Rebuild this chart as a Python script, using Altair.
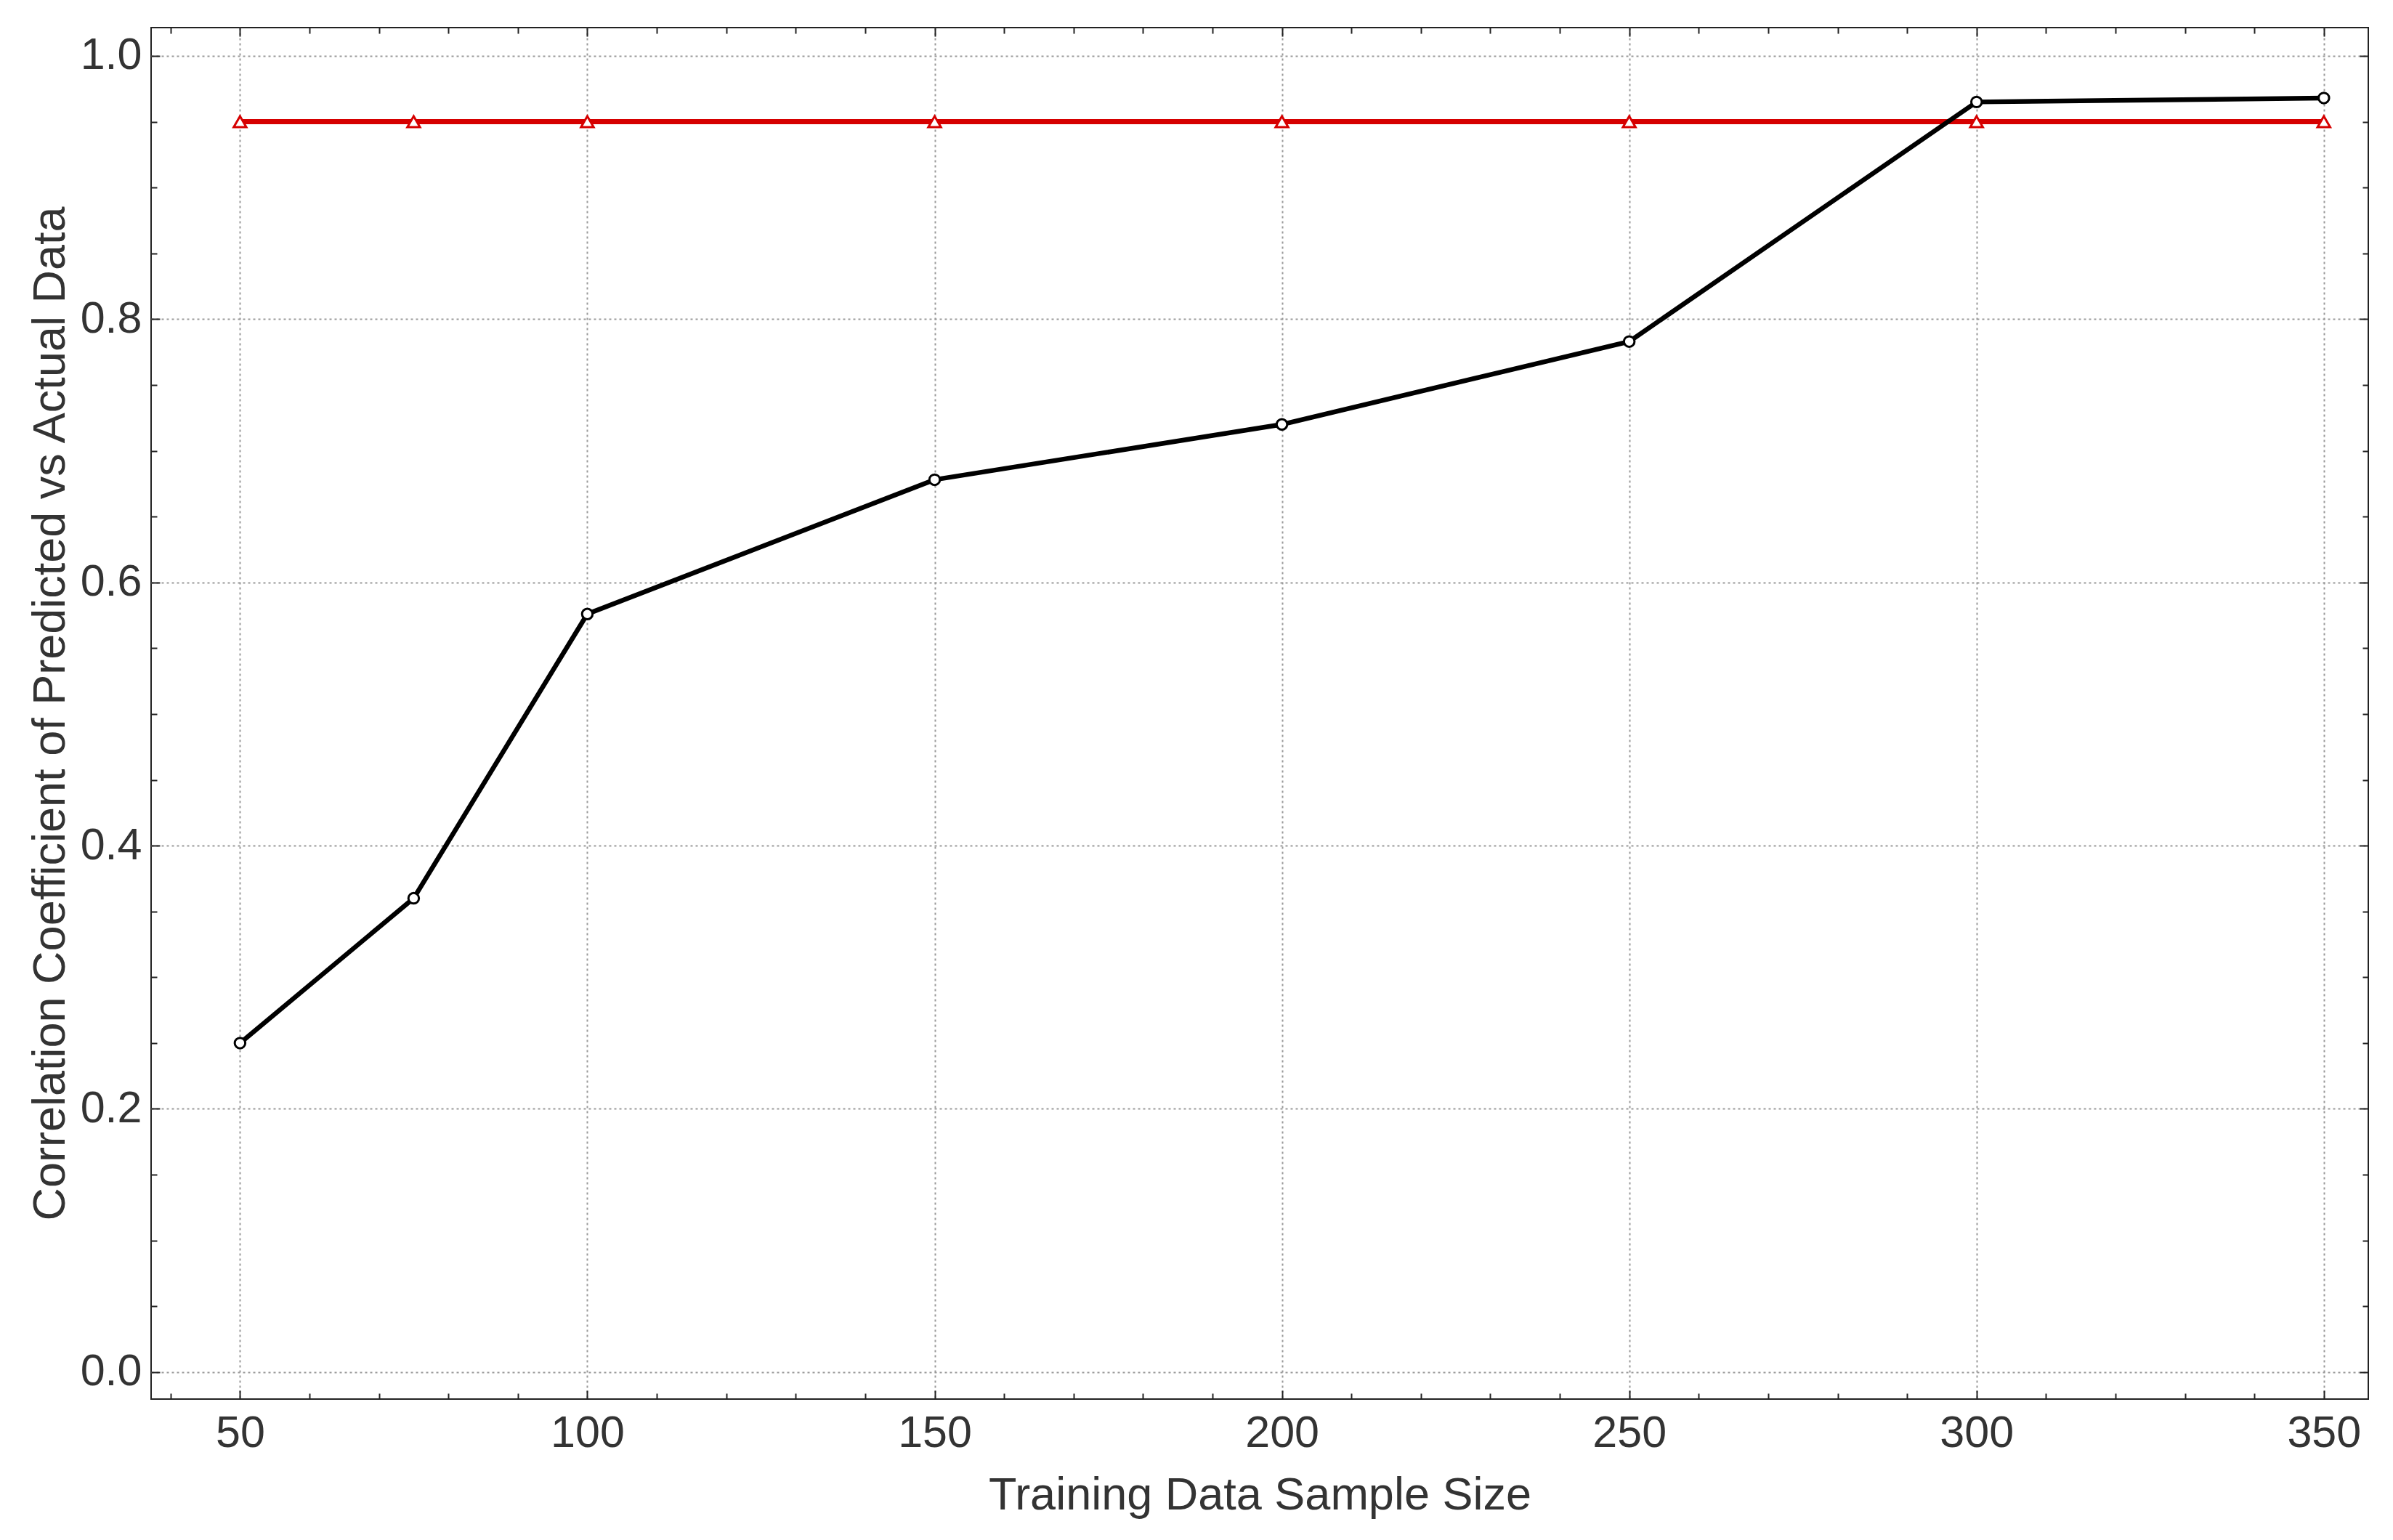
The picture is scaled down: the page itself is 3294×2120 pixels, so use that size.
import altair as alt
import pandas as pd

# ---- data ----
sample_sizes = [50, 75, 100, 150, 200, 250, 300, 350]
correlation = [0.25, 0.36, 0.576, 0.678, 0.72, 0.783, 0.965, 0.968]
target = [0.95, 0.95, 0.95, 0.95, 0.95, 0.95, 0.95, 0.95]

x_major = [50, 100, 150, 200, 250, 300, 350]
x_minor = [40, 60, 70, 80, 90, 110, 120, 130, 140, 160, 170, 180, 190,
           210, 220, 230, 240, 260, 270, 280, 290, 310, 320, 330, 340]
y_major = [0.0, 0.2, 0.4, 0.6, 0.8, 1.0]
y_minor = [0.05, 0.1, 0.15, 0.25, 0.3, 0.35, 0.45, 0.5, 0.55,
           0.65, 0.7, 0.75, 0.85, 0.9, 0.95]

x_title = "Training Data Sample Size"
y_title = "Correlation Coefficient of Predicted vs Actual Data"

df = pd.DataFrame({"size": sample_sizes, "corr": correlation, "target": target})

W, H = 3052, 1888
FONT = "Liberation Sans"
RED = "#d60000"
TXT = "#333333"
TICK = "#222222"

xs = alt.Scale(domain=[37.2, 356.4], nice=False, zero=False)
ys = alt.Scale(domain=[-0.0205, 1.0215], nice=False, zero=False)


def tick_axis(values, orient, offset, size):
    return alt.Axis(values=values, orient=orient, offset=offset, labels=False,
                    domain=False, grid=False, ticks=True, tickSize=size,
                    tickWidth=2, tickColor=TICK, title=None)


x_label_axis = alt.Axis(values=x_major, orient="bottom", format="d",
                        labelFont=FONT, labelFontSize=61, labelColor=TXT,
                        labelPadding=17, labelFlush=False, labelOverlap=False,
                        ticks=False, tickSize=0, domain=False,
                        grid=True, gridColor="#9a9a9a", gridDash=[3, 4], gridWidth=2,
                        title=x_title, titleFont=FONT, titleFontSize=63,
                        titleFontWeight="normal", titleColor=TXT, titlePadding=24)

y_label_axis = alt.Axis(values=y_major, orient="left", format=".1f",
                        labelFont=FONT, labelFontSize=61, labelColor=TXT,
                        labelPadding=13, labelFlush=False, labelOverlap=False,
                        ticks=False, tickSize=0, domain=False,
                        grid=True, gridColor="#9a9a9a", gridDash=[3, 4], gridWidth=2,
                        title=y_title, titleFont=FONT, titleFontSize=63,
                        titleFontWeight="normal", titleColor=TXT, titlePadding=9)

base = alt.Chart(df)

red_line = base.mark_line(color=RED, strokeWidth=7).encode(
    x=alt.X("size:Q", scale=xs, axis=x_label_axis),
    y=alt.Y("target:Q", scale=ys, axis=y_label_axis),
)

red_pts = base.mark_point(shape="triangle-up", filled=True, fill="white",
                          stroke=RED, strokeWidth=3, size=300, opacity=1).encode(
    x=alt.X("size:Q", scale=xs, axis=tick_axis(x_major, "top", -H, 12)),
    y=alt.Y("target:Q", scale=ys, axis=tick_axis(y_major, "right", -W, 12)),
)

black_line = base.mark_line(color="black", strokeWidth=6.5).encode(
    x=alt.X("size:Q", scale=xs, axis=tick_axis(x_major, "bottom", -H, 12)),
    y=alt.Y("corr:Q", scale=ys, axis=tick_axis(y_major, "left", -W, 12)),
)

black_pts = base.mark_point(shape="circle", filled=True, fill="white",
                            stroke="black", strokeWidth=3, size=210, opacity=1).encode(
    x=alt.X("size:Q", scale=xs, axis=tick_axis(x_minor, "top", -H, 8)),
    y=alt.Y("corr:Q", scale=ys, axis=tick_axis(y_minor, "right", -W, 8)),
)

minor_host = base.mark_point(opacity=0).encode(
    x=alt.X("size:Q", scale=xs, axis=tick_axis(x_minor, "bottom", -H, 8)),
    y=alt.Y("corr:Q", scale=ys, axis=tick_axis(y_minor, "left", -W, 8)),
)

chart = alt.layer(red_line, red_pts, black_line, black_pts, minor_host).resolve_axis(
    x="independent", y="independent"
).properties(
    width=W, height=H,
    padding={"left": 200, "top": 30, "right": 20, "bottom": 180},
    autosize=alt.AutoSizeParams(type="none"),
    background="white",
).configure_view(stroke="#222222", strokeWidth=2)

chart.save("out.html", embed_options={"renderer": "svg", "actions": False})
